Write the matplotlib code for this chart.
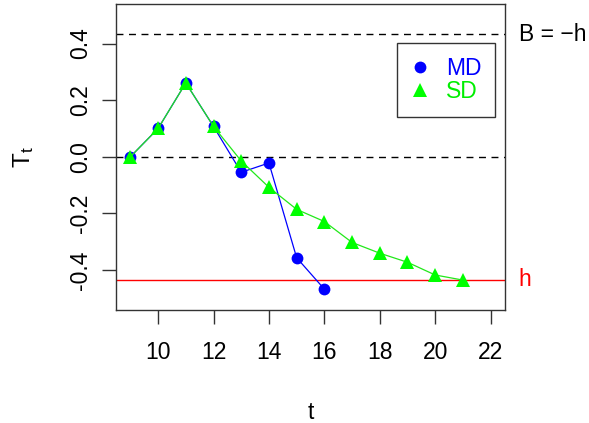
import numpy as np
import matplotlib
matplotlib.use('Agg')
import matplotlib.pyplot as plt
import matplotlib.transforms as mtransforms

plt.rcParams['font.family'] = ['Liberation Sans', 'DejaVu Sans']
plt.rcParams['mathtext.fontset'] = 'custom'
plt.rcParams['mathtext.rm'] = 'Liberation Sans'
plt.rcParams['mathtext.it'] = 'Liberation Sans'

# run statistics for both detectors
t_md = [9, 10, 11, 12, 13, 14, 15, 16]
T_md = [0.0, 0.100, 0.261, 0.107, -0.055, -0.022, -0.357, -0.468]

t_sd = [9, 10, 11, 12, 13, 14, 15, 16, 17, 18, 19, 20, 21]
T_sd = [0.0, 0.100, 0.261, 0.107, -0.015, -0.108, -0.186, -0.229,
        -0.303, -0.341, -0.373, -0.418, -0.436]

h = -0.435          # lower boundary
B = 0.433           # upper boundary, B = -h

xticks = [10, 12, 14, 16, 18, 20, 22]
yticks = [-0.4, -0.2, 0.0, 0.2, 0.4]
ytick_labels = ['-0.4', '-0.2', '0.0', '0.2', '0.4']

FS = 16.5

fig = plt.figure(figsize=(5.89, 4.23), dpi=100)
ax = fig.add_axes([116 / 589, 1 - 309.5 / 423, (505 - 116) / 589, (309.5 - 4) / 423])

ax.axhline(B, color='black', lw=1, ls=(0, (5, 4)))
ax.axhline(0, color='black', lw=1, ls=(0, (5, 4)))
ax.axhline(h, color='#FF0000', lw=1)

ax.plot(t_md, T_md, color='#0000FF', lw=0.9, marker='o', ms=8.5,
        markeredgewidth=0, label='MD', zorder=3)
ax.plot(t_sd, T_sd, color='#22E81A', lw=0.9, marker='^', ms=10.5,
        markerfacecolor='#00FF00', markeredgewidth=0, label='SD', zorder=4)

ax.set_xlim(9 - 0.52, 22 + 0.52)
ax.set_ylim(-0.54, 0.54)
ax.set_xticks(xticks)
ax.set_yticks(yticks)
ax.set_yticklabels(ytick_labels, rotation=90, va='center')
ax.tick_params(axis='both', labelsize=FS, length=10, width=1, color='#333333')
ax.tick_params(axis='x', pad=13)
ax.tick_params(axis='y', pad=7)
for s in ax.spines.values():
    s.set_color('#333333')
    s.set_linewidth(1)

ax.set_xlabel('t', fontsize=FS, labelpad=26)
ax.set_ylabel(r'$\mathrm{T}_t$', fontsize=FS + 1, labelpad=24, rotation=90)

trans = mtransforms.blended_transform_factory(ax.transAxes, ax.transData)
ax.text(1.035, B, 'B = \u2212h', transform=trans, fontsize=FS,
        va='center', ha='left', clip_on=False)
ax.text(1.035, h, 'h', transform=trans, fontsize=FS, color='#FF0000',
        va='center', ha='left', clip_on=False)

leg = ax.legend(loc='upper right', bbox_to_anchor=(0.975, 0.872), fontsize=FS,
                frameon=True, fancybox=False, edgecolor='black', handlelength=0.8,
                handletextpad=0.75, borderpad=0.6, borderaxespad=0,
                labelspacing=0.0, handleheight=0.7)
leg.get_frame().set_linewidth(1)
for line in leg.get_lines():
    line.set_linestyle('')
for text, c in zip(leg.get_texts(), ['#0000FF', '#00EE00']):
    text.set_color(c)

fig.savefig('out.png', dpi=100)
